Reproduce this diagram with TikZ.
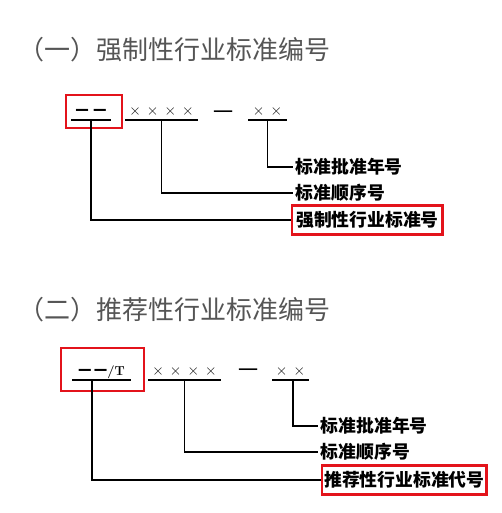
\documentclass[tikz,border=0pt]{standalone}
\usepackage{fontspec}
\newfontfamily\cjk{Noto Sans CJK SC}
\usetikzlibrary{positioning}

\definecolor{titlegray}{HTML}{555555}
\definecolor{boxred}{HTML}{E3131B}

\tikzset{
	title/.style={font=\cjk\fontsize{26}{26}\selectfont, text=titlegray, anchor=west, inner sep=0pt},
	code/.style={font=\rmfamily\fontsize{16}{16}\selectfont, inner sep=0pt, minimum height=14pt},
	desc/.style={font=\cjk\bfseries\fontsize{17.8}{18}\selectfont, anchor=west, inner sep=2pt},
	descbox/.style={desc, draw=boxred, line width=2.4pt, inner xsep=4pt, inner ysep=6pt},
	redbox/.style={draw=boxred, line width=2.4pt},
	elbow/.style={to path={|- (\tikztotarget)}},
}

\newcommand{\crs}{×}
\newcommand{\dsh}{{\cjk\bfseries\fontsize{13}{13}\selectfont 一}}

\begin{document}
\begin{tikzpicture}[x=1pt, y=-1pt, line width=1.6pt]
	\useasboundingbox (0,0) rectangle (501,513);

	% (一)
	\node[title] (t1) at (18,50) {（一）强制性行业标准编号};
	\node[code, minimum width=38pt] (c11) at (91,112) {\dsh\hspace{5pt}\dsh};
	\node[code, minimum width=71pt] (c12) at (161.5,112) {\crs\hspace{6pt}\crs\hspace{6pt}\crs\hspace{6pt}\crs};
	\node[code, font=\cjk\fontsize{20}{20}\selectfont] (d1) at (223.5,115) {一};
	\node[code, minimum width=37pt] (c13) at (267.5,112) {\crs\hspace{6pt}\crs};
	\draw[redbox] (66,95) rectangle (122,128);

	\node[desc] (l13) at (293,167) {标准批准年号};
	\node[desc] (l12) at (293,193) {标准顺序号};
	\node[descbox] (l11) at (291,220) {强制性行业标准号};

	\path [-] (c11.south west) edge (c11.south east);
	\path [-] (c12.south west) edge (c12.south east);
	\path [-] (c13.south west) edge (c13.south east);
	\path [-] (c13.south) edge[elbow] (l13.west);
	\path [-] (c12.south) edge[elbow] (l12.west);
	\path [-] (c11.south) edge[elbow] (l11.west);

	% (二)
	\node[title] (t2) at (18,310) {（二）推荐性行业标准编号};
	\node[code, minimum width=57pt] (c21) at (101.5,372) {\dsh\hspace{3pt}\dsh{\bfseries\fontsize{13}{13}\selectfont /T}};
	\node[code, minimum width=71pt] (c22) at (184.5,372) {\crs\hspace{6pt}\crs\hspace{6pt}\crs\hspace{6pt}\crs};
	\node[code, font=\cjk\fontsize{20}{20}\selectfont] (d2) at (248.5,373) {一};
	\node[code, minimum width=35pt] (c23) at (290.5,372) {\crs\hspace{6pt}\crs};
	\draw[redbox] (61,348) rectangle (144,391);

	\node[desc] (l23) at (318,426) {标准批准年号};
	\node[desc] (l22) at (318,452) {标准顺序号};
	\node[descbox, inner xsep=2pt] (l21) at (321,480) {推荐性行业标准代号};

	\path [-] (c21.south west) edge (c21.south east);
	\path [-] (c22.south west) edge (c22.south east);
	\path [-] (c23.south west) edge (c23.south east);
	\path [-] ([xshift=2.5pt]c23.south) edge[elbow] (l23.west);
	\path [-] (c22.south) edge[elbow] (l22.west);
	\path [-] ([xshift=-9.5pt]c21.south) edge[elbow] (l21.west);
\end{tikzpicture}
\end{document}
